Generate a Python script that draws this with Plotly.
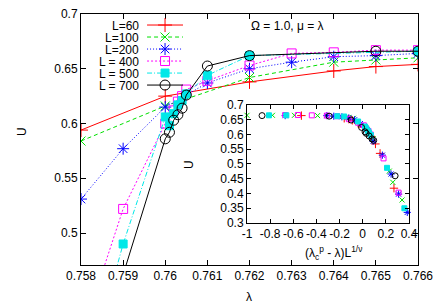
import plotly.graph_objects as go

# ---------------- main panel data (lambda, U) ----------------
lam_60 = [0.758, 0.760, 0.762, 0.764, 0.765, 0.766]
U_60 = [0.594, 0.625, 0.638, 0.648, 0.652, 0.654]

lam_100 = [0.758, 0.760, 0.762, 0.764, 0.765, 0.766]
U_100 = [0.584, 0.616, 0.642, 0.656, 0.658, 0.660]

lam_200 = [0.758, 0.759, 0.760, 0.761, 0.762, 0.763, 0.764, 0.765, 0.766]
U_200 = [0.531, 0.577, 0.615, 0.637, 0.650, 0.656, 0.661, 0.662, 0.664]

lam_400 = [0.758, 0.759, 0.760, 0.7602, 0.7603, 0.7604, 0.7605, 0.761, 0.762, 0.763, 0.764, 0.765, 0.766]
U_400 = [0.405, 0.522, 0.600, 0.612, 0.620, 0.625, 0.631, 0.639, 0.653, 0.664, 0.665, 0.667, 0.667]

lam_500 = [0.758, 0.759, 0.760, 0.7601, 0.7602, 0.7603, 0.7604, 0.7605, 0.761, 0.762, 0.766]
U_500 = [0.350, 0.490, 0.606, 0.598, 0.609, 0.617, 0.621, 0.627, 0.644, 0.662, 0.666]

lam_700 = [0.759, 0.760, 0.7601, 0.7602, 0.7603, 0.7604, 0.7605, 0.761, 0.762, 0.765, 0.766]
U_700 = [0.462, 0.586, 0.592, 0.603, 0.608, 0.614, 0.626, 0.6525, 0.662, 0.666, 0.666]

# ---------------- inset data (scaled variable, U) ----------------
ix_60 = [-0.53, -0.16, -0.12, -0.09, -0.04, 0.00, 0.07, 0.11, 0.15, 0.27]
iu_60 = [0.664, 0.655, 0.652, 0.648, 0.638, 0.625, 0.594, 0.568, 0.536, 0.418]

ix_100 = [-1.00, -0.78, -0.59, -0.39, -0.16, -0.12, -0.08, -0.04, 0.03, 0.09, 0.23, 0.26, 0.34]
iu_100 = [0.665, 0.665, 0.665, 0.664, 0.660, 0.658, 0.655, 0.643, 0.616, 0.586, 0.476, 0.438, 0.378]

ix_200 = [-0.67, -0.31, -0.25, -0.18, -0.12, -0.07, -0.02, 0.04, 0.09, 0.17, 0.245, 0.31, 0.385]
iu_200 = [0.664, 0.664, 0.662, 0.660, 0.656, 0.650, 0.637, 0.615, 0.577, 0.530, 0.466, 0.398, 0.336]

ix_400 = [-0.67, -0.56, -0.44, -0.31, -0.22, -0.12, -0.04, 0.01, 0.02, 0.03, 0.05, 0.07, 0.18, 0.31]
iu_400 = [0.666, 0.666, 0.665, 0.664, 0.662, 0.652, 0.640, 0.631, 0.625, 0.620, 0.612, 0.600, 0.519, 0.403]

ix_500 = [-0.81, -0.66, -0.22, -0.16, -0.04, 0.02, 0.03, 0.045, 0.055, 0.07, 0.21, 0.36]
iu_500 = [0.665, 0.665, 0.662, 0.661, 0.644, 0.627, 0.621, 0.612, 0.606, 0.598, 0.487, 0.350]

ix_700 = [-0.87, -0.29, -0.10, -0.01, 0.02, 0.03, 0.055, 0.08, 0.095, 0.28]
iu_700 = [0.664, 0.662, 0.649, 0.624, 0.609, 0.604, 0.595, 0.585, 0.580, 0.460]

legend_labels = ["L=60", "L=100", "L=200", "L = 400", "L = 500", "L = 700"]

# ---------------- ticks ----------------
main_x_ticks = [0.758, 0.759, 0.760, 0.761, 0.762, 0.763, 0.764, 0.765, 0.766]
main_x_labels = ["0.758", "0.759", "0.76", "0.761", "0.762", "0.763", "0.764", "0.765", "0.766"]
main_y_ticks = [0.5, 0.55, 0.6, 0.65, 0.7]
main_y_labels = ["0.5", "0.55", "0.6", "0.65", "0.7"]
inset_x_ticks = [-1, -0.8, -0.6, -0.4, -0.2, 0, 0.2, 0.4]
inset_x_labels = ["-1", "-0.8", "-0.6", "-0.4", "-0.2", "0", "0.2", "0.4"]
inset_y_ticks = [0.3, 0.35, 0.4, 0.45, 0.5, 0.55, 0.6, 0.65, 0.7]
inset_y_labels = ["0.3", "0.35", "0.4", "0.45", "0.5", "0.55", "0.6", "0.65", "0.7"]

FONT = "Liberation Sans, Arial, sans-serif"

styles = [
    dict(color="#ff0000", dash="solid", symbol="cross-thin-open", size=10),
    dict(color="#00e000", dash="4px,3px", symbol="x-thin-open", size=9),
    dict(color="#0000ff", dash="1px,2px", symbol="asterisk-open", size=10),
    dict(color="#ff00ff", dash="2px,2px", symbol="square-open", size=9),
    dict(color="#00e8e8", dash="5px,2px,1px,2px", symbol="square", size=8),
    dict(color="#000000", dash="solid", symbol="circle-open", size=10),
]
main_data = [(lam_60, U_60), (lam_100, U_100), (lam_200, U_200),
             (lam_400, U_400), (lam_500, U_500), (lam_700, U_700)]
inset_data = [(ix_60, iu_60), (ix_100, iu_100), (ix_200, iu_200),
              (ix_400, iu_400), (ix_500, iu_500), (ix_700, iu_700)]

fig = go.Figure()

for (xs, ys), st in zip(main_data, styles):
    fig.add_trace(go.Scatter(
        x=xs, y=ys, mode="lines+markers", xaxis="x", yaxis="y",
        line=dict(color=st["color"], width=1, dash=st["dash"]),
        marker=dict(symbol=st["symbol"], size=st["size"], color=st["color"],
                    line=dict(color=st["color"], width=1)),
    ))

for (xs, ys), st in zip(inset_data, styles):
    fig.add_trace(go.Scatter(
        x=xs, y=ys, mode="markers", xaxis="x2", yaxis="y2", cliponaxis=False,
        marker=dict(symbol=st["symbol"], size=max(st["size"] - 4, 5), color=st["color"],
                    line=dict(color=st["color"], width=1)),
    ))

# custom gnuplot-style legend (text on the left, sample on the right)
for i, st in enumerate(styles):
    fig.add_trace(go.Scatter(
        x=[0, 1], y=[i, i], mode="lines", xaxis="x3", yaxis="y3",
        line=dict(color=st["color"], width=1, dash=st["dash"]),
    ))
    fig.add_trace(go.Scatter(
        x=[0.5], y=[i], mode="markers", xaxis="x3", yaxis="y3", cliponaxis=False,
        marker=dict(symbol=st["symbol"], size=st["size"], color=st["color"],
                    line=dict(color=st["color"], width=1)),
    ))
    fig.add_annotation(x=0, y=i, xref="x3", yref="y3", text=legend_labels[i],
                       showarrow=False, xanchor="right", yanchor="middle", xshift=-7,
                       height=11, borderpad=0,
                       font=dict(family=FONT, size=12, color="black"))

axis_common = dict(showline=True, linecolor="black", linewidth=1, mirror="ticks",
                   ticks="inside", tickcolor="black", showgrid=False, zeroline=False,
                   automargin=False, tickangle=0,
                   tickfont=dict(family=FONT, size=12, color="black"))

fig.update_layout(
    width=436, height=305,
    autosize=False,
    margin=dict(l=81, r=18, t=14, b=40, pad=0),
    paper_bgcolor="white", plot_bgcolor="rgba(0,0,0,0)",
    showlegend=False,
    hovermode=False,
    xaxis=dict(domain=[0, 1], anchor="y", range=[0.758, 0.766],
               tickvals=main_x_ticks, ticktext=main_x_labels, ticklen=5, **axis_common),
    yaxis=dict(domain=[0, 1], anchor="x", range=[0.4708, 0.7],
               tickvals=main_y_ticks, ticktext=main_y_labels, ticklen=5, **axis_common),
    xaxis2=dict(domain=[0.4926, 0.9733], anchor="y2", range=[-1, 0.4],
                tickvals=inset_x_ticks, ticktext=inset_x_labels, ticklen=4, **axis_common),
    yaxis2=dict(domain=[0.1673, 0.6375], anchor="x2", range=[0.3, 0.7],
                tickvals=inset_y_ticks, ticktext=inset_y_labels, ticklen=4, **axis_common),
    xaxis3=dict(domain=[0.196, 0.3027], anchor="y3", range=[0, 1], visible=False),
    yaxis3=dict(domain=[0.693, 0.980], anchor="x3", range=[5.5, -0.5], visible=False),
)

ann_font = dict(family=FONT, size=12, color="black")
fig.add_annotation(x=0.4985, y=0.952, xref="paper", yref="paper", text="Ω = 1.0, μ = λ",
                   showarrow=False, xanchor="left", yanchor="middle", font=ann_font)
fig.add_annotation(x=0.4985, y=-0.1275, xref="paper", yref="paper", text="λ",
                   showarrow=False, xanchor="center", yanchor="middle", font=ann_font)
fig.add_annotation(x=-0.175, y=0.53, xref="paper", yref="paper", text="U", textangle=-90,
                   showarrow=False, xanchor="center", yanchor="middle", font=ann_font)
fig.add_annotation(x=0.7507, y=0.0478, xref="paper", yref="paper",
                   text="(λ<sub>c</sub><sup>p</sup> - λ)L<sup>1/ν</sup>",
                   showarrow=False, xanchor="center", yanchor="middle", font=ann_font)
fig.add_annotation(x=0.3205, y=0.398, xref="paper", yref="paper", text="U", textangle=-90,
                   showarrow=False, xanchor="center", yanchor="middle", font=ann_font)

fig.write_html(
    "out.html",
    config={"displayModeBar": False, "staticPlot": True},
    post_script="document.body.style.margin='0px';document.body.style.padding='0px';"
                "document.documentElement.style.overflow='hidden';",
)
